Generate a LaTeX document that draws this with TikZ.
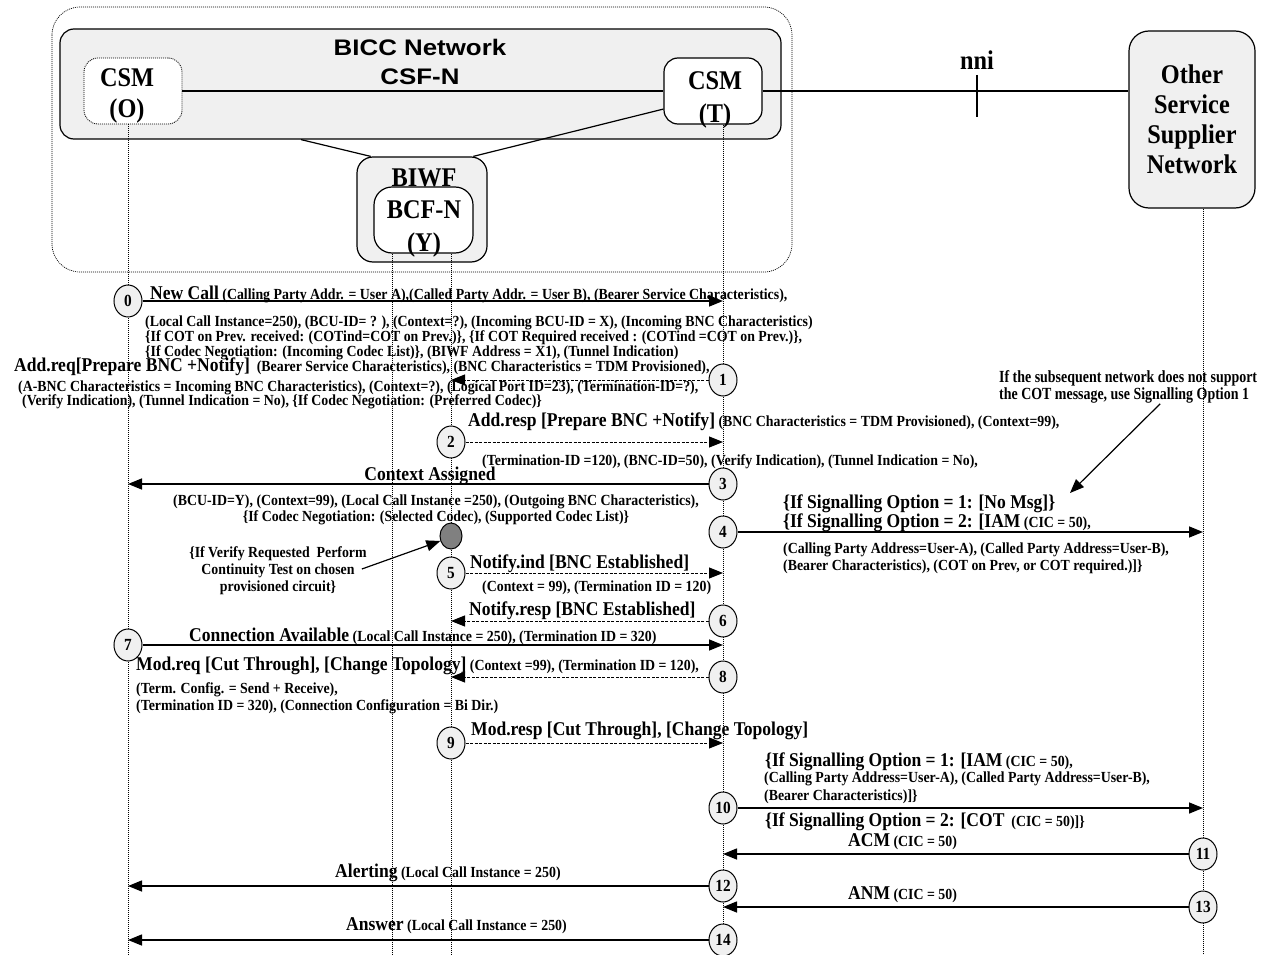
\documentclass[tikz,border=0pt]{standalone}
\usepackage{fontspec}
\setmainfont{Liberation Serif}[FakeStretch=0.9]
\newfontfamily\arialfont{Liberation Sans}[FakeStretch=1.15]
\newfontfamily\notefont{Liberation Serif}[FakeStretch=0.82]
\usepackage{tikz}
\usetikzlibrary{arrows.meta, calc, shapes.geometric}
\usepackage{xcolor}
\definecolor{boxgray}{RGB}{240,240,240}
\definecolor{dotgray}{RGB}{128,128,128}
\newcommand{\bigmsg}{\fontsize{19.5}{20}\selectfont\bfseries}
\newcommand{\smallmsg}{\fontsize{15.4}{16.5}\selectfont\bfseries}
\newcommand{\boxfont}{\fontsize{27}{33}\selectfont\bfseries}
\newcommand{\numfont}{\fontsize{17}{18}\selectfont\bfseries}

\begin{document}
\begin{tikzpicture}[x=1pt, y=-1pt, >={Triangle[length=14pt, width=11pt]},
  lifeline/.style={line width=0.7pt, dash pattern=on 1pt off 1pt},
  entity/.style={draw, line width=1.2pt, rounded corners=14pt, inner sep=0pt},
  numcirc/.style={draw, ellipse, line width=1pt, fill=boxgray, minimum width=28pt, minimum height=32pt, inner sep=0pt, font=\numfont},
  msgtxt/.style={anchor=west, inner sep=0pt, align=left, font=\smallmsg},
  solidmsg/.style={->, line width=1.5pt},
  dashmsg/.style={->, line width=1pt, dash pattern=on 3pt off 1.5pt},
  pointer/.style={->, line width=1.2pt}]

  \useasboundingbox (0,0) rectangle (1267,955);

  % Lifeline ends
  \coordinate (lifeO) at (128,955);
  \coordinate (lifeY1) at (392,955);
  \coordinate (lifeY2) at (451,955);
  \coordinate (lifeT) at (723,955);
  \coordinate (lifeN) at (1203,955);

  % BICC network frame
  \draw[lifeline, rounded corners=28pt] (52,7) rectangle (792,272);
  \node[entity, fill=boxgray, minimum width=721pt, minimum height=110pt] (csf) at (420.5,84) {};
  \node[font=\arialfont\bfseries\fontsize{22.5}{29}\selectfont, align=center] (csftxt) at (420,62) {BICC Network\\CSF-N};

  % CSM (O) and CSM (T)
  \node[entity, line width=0.8pt, dash pattern=on 1pt off 1pt, fill=white, minimum width=98pt, minimum height=66pt] (csmO) at (133,91) {};
  \node[font=\boxfont\fontsize{27}{31}\selectfont, align=center] (csmOtxt) at (127,96) {CSM\\(O)};
  \node[entity, fill=white, minimum width=98pt, minimum height=66pt] (csmT) at (713,91) {};
  \node[font=\boxfont, align=center] (csmTtxt) at (715,100) {CSM\\(T)};

  % BIWF with BCF-N
  \node[entity, fill=boxgray, rounded corners=16pt, minimum width=130pt, minimum height=105pt] (biwf) at (422,209.5) {};
  \node[font=\boxfont] (biwftxt) at (424,178) {BIWF};
  \node[entity, fill=white, rounded corners=18pt, minimum width=99pt, minimum height=66pt] (bcf) at (423.5,220) {};
  \node[font=\boxfont, align=center] (bcftxt) at (424,229) {BCF-N\\(Y)};

  % Other network
  \node[entity, fill=boxgray, rounded corners=20pt, minimum width=126pt, minimum height=177pt,
        font=\fontsize{27}{30}\selectfont\bfseries, align=center] (other) at (1192,119.5) {Other\\Service\\Supplier\\Network};
  \node[font=\fontsize{27}{28}\selectfont\bfseries] (nni) at (977,60) {nni};

  % Links
  \draw[line width=1.2pt] (csmO.east) -- (csmT.west);
  \draw[line width=1.2pt] (csmT.east) -- (csmT.east -| other.west);
  \draw[line width=1.2pt] ([yshift=-2pt]nni.south) -- ++(0,42);
  \draw[line width=1.2pt] ($(csf.south)+(-119.5,0)$) -- (biwf.134);
  \draw[line width=1.2pt] (biwf.46) -- (csmT.200);

  % Lifelines
  \draw[lifeline] (csmO.south -| lifeO) -- (lifeO);
  \draw[lifeline] (bcf.south -| lifeY1) -- (lifeY1);
  \draw[lifeline] (bcf.south -| lifeY2) -- (lifeY2);
  \draw[lifeline] (csmT.south -| lifeT) -- (lifeT);
  \draw[lifeline] (other.south -| lifeN) -- (lifeN);

  % Steps
  \node[numcirc] (c0) at (128,301) {0};
  \node[numcirc] (c1) at (723,380) {1};
  \node[numcirc] (c2) at (451,442) {2};
  \node[numcirc] (c3) at (723,484) {3};
  \node[numcirc] (c4) at (723,532) {4};
  \node[draw, ellipse, line width=1pt, fill=dotgray, minimum width=22pt, minimum height=26pt] (gdot) at (451,536) {};
  \node[numcirc] (c5) at (451,573) {5};
  \node[numcirc] (c6) at (723,621) {6};
  \node[numcirc] (c7) at (128,645) {7};
  \node[numcirc] (c8) at (723,677) {8};
  \node[numcirc] (c9) at (451,743) {9};
  \node[numcirc] (c10) at (723,808) {10};
  \node[numcirc] (c11) at (1203,854) {11};
  \node[numcirc] (c12) at (723,886) {12};
  \node[numcirc] (c13) at (1203,907) {13};
  \node[numcirc] (c14) at (723,940) {14};

  % Messages
  \draw[solidmsg] (c0.east) -- (c0 -| lifeT);
  \draw[dashmsg] (c1.west) -- (c1 -| lifeY2);
  \draw[dashmsg] (c2.east) -- (c2 -| lifeT);
  \draw[solidmsg] (c3.west) -- (c3 -| lifeO);
  \draw[solidmsg] (c4.east) -- (c4 -| lifeN);
  \draw[dashmsg] (c5.east) -- (c5 -| lifeT);
  \draw[dashmsg] (c6.west) -- (c6 -| lifeY2);
  \draw[solidmsg] (c7.east) -- (c7 -| lifeT);
  \draw[dashmsg] (c8.west) -- (c8 -| lifeY2);
  \draw[dashmsg] (c9.east) -- (c9 -| lifeT);
  \draw[solidmsg] (c10.east) -- (c10 -| lifeN);
  \draw[solidmsg] (c11.west) -- (c11 -| lifeT);
  \draw[solidmsg] (c12.west) -- (c12 -| lifeO);
  \draw[solidmsg] (c13.west) -- (c13 -| lifeT);
  \draw[solidmsg] (c14.west) -- (c14 -| lifeO);

  % Message labels
  \node[msgtxt] (t0) at (150,294) {{\bigmsg New Call} (Calling Party Addr. = User A),(Called Party Addr. = User B), (Bearer Service Characteristics),};
  \node[msgtxt, font=\smallmsg\fontsize{15.4}{14.8}\selectfont] (t0b) at (145,338) {(Local Call Instance=250), (BCU-ID= ? ), (Context=?), (Incoming BCU-ID = X), (Incoming BNC Characteristics)\\
    \{If COT on Prev. received: (COTind=COT on Prev.)\}, \{If COT Required received : (COTind =COT on Prev.)\},\\
    \{If Codec Negotiation: (Incoming Codec List)\}, (BIWF Address = X1), (Tunnel Indication)};
  \node[msgtxt] (t1) at (14,367) {{\bigmsg Add.req[Prepare BNC +Notify]}\ \ (Bearer Service Characteristics), (BNC Characteristics = TDM Provisioned),};
  \node[msgtxt, font=\smallmsg\fontsize{15.4}{14.5}\selectfont] (t1b) at (18,395) {(A-BNC Characteristics = Incoming BNC Characteristics), (Context=?), (Logical Port ID=23), (Termination-ID=?),\\
    \hspace{4pt}(Verify Indication), (Tunnel Indication = No), \{If Codec Negotiation: (Preferred Codec)\}};
  \node[msgtxt] (t2) at (468,422) {{\bigmsg Add.resp [Prepare BNC +Notify]} (BNC Characteristics = TDM Provisioned), (Context=99),};
  \node[msgtxt] (t2b) at (482,462) {(Termination-ID =120), (BNC-ID=50), (Verify Indication), (Tunnel Indication = No),};
  \node[font=\bigmsg, inner sep=0pt] (t3) at (430,476) {Context Assigned};
  \node[font=\smallmsg, inner sep=0pt, align=center] (t3b) at (436,510) {(BCU-ID=Y), (Context=99), (Local Call Instance =250), (Outgoing BNC Characteristics),\\
    \{If Codec Negotiation: (Selected Codec), (Supported Codec List)\}};
  \node[msgtxt, font=\bigmsg] (t4a) at (783,504) {\{If Signalling Option = 1: [No Msg]\}};
  \node[msgtxt] (t4b) at (783,523) {{\bigmsg \{If Signalling Option = 2: [IAM} (CIC = 50),};
  \node[msgtxt, font=\smallmsg\fontsize{15.4}{17}\selectfont] (t4c) at (783,558) {(Calling Party Address=User-A), (Called Party Address=User-B),\\
    (Bearer Characteristics), (COT on Prev, or COT required.)]\}};
  \node[msgtxt, font=\bigmsg] (t5) at (470,564) {Notify.ind [BNC Established]};
  \node[msgtxt] (t5b) at (482,588) {(Context = 99), (Termination ID = 120)};
  \node[msgtxt, font=\bigmsg] (t6) at (469,611) {Notify.resp [BNC Established]};
  \node[msgtxt] (t7) at (189,636) {{\bigmsg Connection Available} (Local Call Instance = 250), (Termination ID = 320)};
  \node[msgtxt] (t8) at (136,666) {{\bigmsg Mod.req [Cut Through], [Change Topology]} (Context =99), (Termination ID = 120),};
  \node[msgtxt, font=\smallmsg\fontsize{15.4}{17}\selectfont] (t8b) at (136,698) {(Term. Config. = Send + Receive),\\(Termination ID = 320), (Connection Configuration = Bi Dir.)};
  \node[msgtxt, font=\bigmsg] (t9) at (471,731) {Mod.resp [Cut Through], [Change Topology]};
  \node[msgtxt] (t10a) at (765,762) {{\bigmsg \{If Signalling Option = 1: [IAM} (CIC = 50),};
  \node[msgtxt, font=\smallmsg\fontsize{15.4}{17.5}\selectfont] (t10b) at (764,788) {(Calling Party Address=User-A), (Called Party Address=User-B),\\(Bearer Characteristics)]\}};
  \node[msgtxt] (t10c) at (765,822) {{\bigmsg \{If Signalling Option = 2: [COT}\ \ (CIC = 50)]\}};
  \node[msgtxt] (t11) at (848,842) {{\bigmsg ACM} (CIC = 50)};
  \node[msgtxt] (t12) at (335,873) {{\bigmsg Alerting} (Local Call Instance = 250)};
  \node[msgtxt] (t13) at (848,895) {{\bigmsg ANM} (CIC = 50)};
  \node[msgtxt] (t14) at (346,926) {{\bigmsg Answer} (Local Call Instance = 250)};

  % Notes
  \node[msgtxt, font=\notefont\bfseries\fontsize{17}{17.5}\selectfont] (note) at (999,387) {If the subsequent network does not support\\the COT message, use Signalling Option 1};
  \coordinate (noteTip) at (1070,493);
  \draw[pointer] ($(note.south)+(32,0)$) -- (noteTip);
  \node[font=\smallmsg\fontsize{15.4}{17}\selectfont, inner sep=0pt, align=center] (vnote) at (278,571) {\{If Verify Requested\ \ Perform\\Continuity Test on chosen\\provisioned circuit\}};
  \draw[pointer] ($(vnote.east)+(-5,-2)$) -- (gdot.205);
\end{tikzpicture}
\end{document}
